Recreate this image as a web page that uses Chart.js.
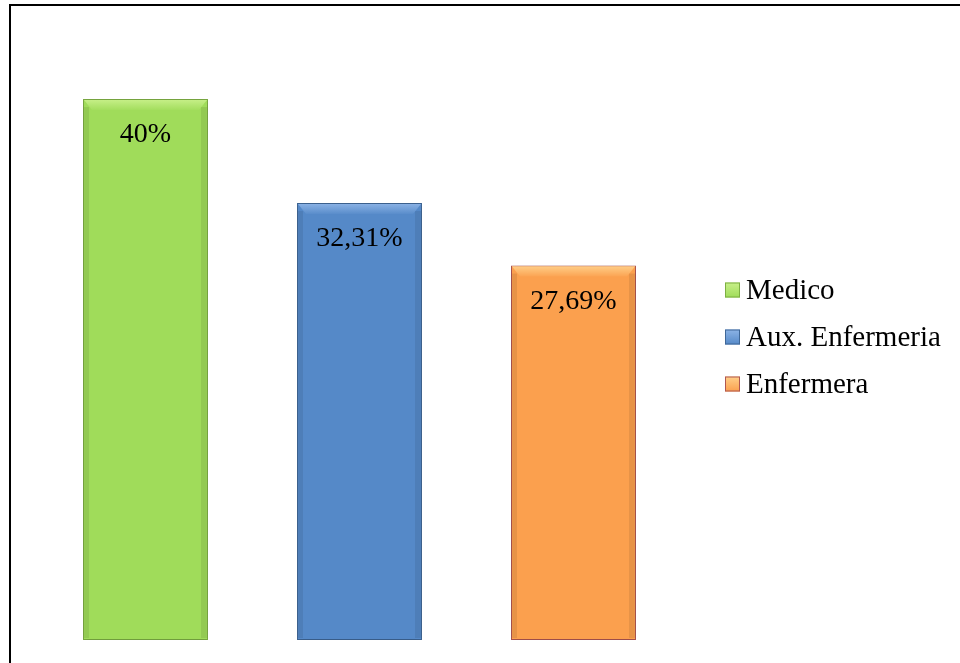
<!DOCTYPE html>
<html>
<head>
<meta charset="utf-8">
<script src="https://cdn.jsdelivr.net/npm/chart.js@4/dist/chart.umd.min.js"></script>
<style>
  html, body { margin: 0; padding: 0; background: #fff; }
  #wrap { position: relative; width: 960px; height: 663px; }
</style>
</head>
<body>
<div id="wrap"><canvas id="chart" width="960" height="663"></canvas></div>
<script>
const categories = ['Medico', 'Aux. Enfermeria', 'Enfermera'];
const values = [40, 32.31, 27.69];
const fillColors = ['#A0DC5A', '#5589C8', '#FBA04E'];
const edgeColors = ['#7DAE43', '#3F6797', '#B05650'];
const lightColors = ['#C8F08A', '#8DB4E6', '#FFD08A'];

const fmt = v => String(v).replace('.', ',') + '%';
const FONT = '28px "Liberation Serif", "Times New Roman", serif';
const LEGEND_FONT = '29px "Liberation Serif", "Times New Roman", serif';

// frame line round the chart (left and top edges are visible)
const framePlugin = {
    id: 'frame',
    beforeDraw(chart) {
        const ctx = chart.ctx;
        ctx.save();
        ctx.strokeStyle = '#000';
        ctx.lineWidth = 2;
        ctx.beginPath();
        ctx.moveTo(10, 700);
        ctx.lineTo(10, 5);
        ctx.lineTo(1000, 5);
        ctx.stroke();
        ctx.restore();
    }
};

// soft shadow under bars
const shadowPlugin = {
    id: 'barShadow',
    beforeDatasetDraw(chart) {
        const ctx = chart.ctx;
        ctx.save();
        ctx.shadowColor = 'rgba(0,0,0,0.18)';
        ctx.shadowBlur = 8;
        ctx.shadowOffsetX = 0;
        ctx.shadowOffsetY = 1;
    },
    afterDatasetDraw(chart) {
        chart.ctx.restore();
    }
};

// bevel highlight on top of each bar + value labels
const labelPlugin = {
    id: 'barLabels',
    afterDatasetsDraw(chart) {
        const ctx = chart.ctx;
        const meta = chart.getDatasetMeta(0);
        meta.data.forEach((bar, i) => {
            const half = bar.width / 2;
            const l = bar.x - half, r = bar.x + half, t = bar.y, b = bar.base;
            ctx.save();
            // top bevel
            const g = ctx.createLinearGradient(0, t, 0, t + 12);
            g.addColorStop(0, lightColors[i]);
            g.addColorStop(1, fillColors[i]);
            ctx.fillStyle = g;
            ctx.beginPath();
            ctx.moveTo(l + 1, t + 1);
            ctx.lineTo(r - 1, t + 1);
            ctx.lineTo(r - 9, t + 11);
            ctx.lineTo(l + 9, t + 11);
            ctx.closePath();
            ctx.fill();
            // side shading
            ctx.fillStyle = 'rgba(0,0,0,0.08)';
            ctx.fillRect(r - 7, t + 8, 6, b - t - 10);
            ctx.fillRect(l + 1, t + 8, 5, b - t - 10);
            ctx.restore();

            ctx.save();
            ctx.font = FONT;
            ctx.fillStyle = '#000';
            ctx.textAlign = 'center';
            ctx.textBaseline = 'alphabetic';
            ctx.fillText(fmt(values[i]), bar.x, t + 43);
            ctx.restore();
        });
    }
};

// legend drawn at the right
const legendPlugin = {
    id: 'sideLegend',
    afterDraw(chart) {
        const ctx = chart.ctx;
        const x0 = 725, y0 = 290, step = 47, box = 15;
        ctx.save();
        ctx.font = LEGEND_FONT;
        ctx.textBaseline = 'alphabetic';
        categories.forEach((name, i) => {
            const cy = y0 + i * step;
            const g = ctx.createLinearGradient(0, cy - box / 2, 0, cy + box / 2);
            g.addColorStop(0, lightColors[i]);
            g.addColorStop(1, fillColors[i]);
            ctx.fillStyle = g;
            ctx.fillRect(x0, cy - box / 2, box, box);
            ctx.strokeStyle = edgeColors[i];
            ctx.lineWidth = 1;
            ctx.strokeRect(x0 + 0.5, cy - box / 2 + 0.5, box - 1, box - 1);
            ctx.fillStyle = '#000';
            ctx.fillText(name, 746, cy + 9);
        });
        ctx.restore();
    }
};

new Chart(document.getElementById('chart'), {
    type: 'bar',
    data: {
        labels: categories,
        datasets: [{
            data: values,
            backgroundColor: fillColors,
            borderColor: edgeColors,
            borderWidth: 1,
            borderSkipped: false,
            barPercentage: 0.584,
            categoryPercentage: 1
        }]
    },
    options: {
        responsive: false,
        animation: false,
        events: [],
        layout: {
            padding: { left: 38.5, right: 279.5, top: 31.4, bottom: 23 }
        },
        plugins: {
            legend: { display: false },
            tooltip: { enabled: false }
        },
        scales: {
            x: { display: false },
            y: { display: false, min: 0, max: 45 }
        }
    },
    plugins: [framePlugin, shadowPlugin, labelPlugin, legendPlugin]
});
</script>
</body>
</html>
